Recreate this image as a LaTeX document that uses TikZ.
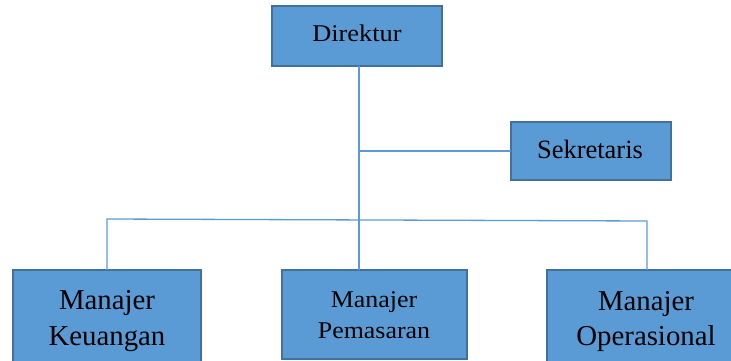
\documentclass[tikz,border=0pt]{standalone}
\usepackage{fontspec}
\setmainfont{Liberation Serif}
\usepackage{graphicx}
\definecolor{boxfill}{HTML}{5B9BD5}
\definecolor{boxdraw}{HTML}{41719C}
\definecolor{linkc}{HTML}{5B9BD5}
\begin{document}
\begin{tikzpicture}[x=1pt,y=-1pt,
  box/.style={draw=boxdraw, fill=boxfill, line width=2pt, inner sep=0pt, outer sep=0pt, anchor=north west},
  link/.style={draw=linkc, line width=1.3pt},
  lbl/.style={anchor=base, inner sep=0pt, align=center, text=black}]
\useasboundingbox (0,0) rectangle (731,361);
\clip (0,0) rectangle (731,361);
\node[box, minimum width=170pt, minimum height=60pt] (dir) at (272,6) {};
\node[box, minimum width=160pt, minimum height=58pt] (sek) at (511,122) {};
\node[box, minimum width=188pt, minimum height=100pt] (keu) at (13,270) {};
\node[box, minimum width=185pt, minimum height=89pt] (pem) at (282,270) {};
\node[box, minimum width=200pt, minimum height=100pt] (ope) at (547,270) {};
\coordinate (jS) at ([xshift=2pt]dir.south |- sek.west);
\coordinate (bl) at (107,219);
\coordinate (br) at (647,221);
\draw[link] ([xshift=2pt]dir.south) -- ([xshift=2pt]dir.south |- pem.north);
\draw[link] (sek.west) -- (jS);
\draw[link] (keu.north) -- (bl) -- (br) -- (ope.north);
\node[lbl, font=\fontsize{24}{24}\selectfont] (tdir) at (357,42) {\scalebox{1.1}[1]{Direktur}};
\node[lbl, font=\fontsize{26.5}{26.5}\selectfont] (tsek) at (590,158) {Sekretaris};
\node[lbl, font=\fontsize{28.8}{36}\selectfont] (tkeu) at (107,345) {Manajer\\Keuangan};
\node[lbl, font=\fontsize{24}{31}\selectfont] (tpem) at (374,338) {\scalebox{1.08}[1]{Manajer}\\\scalebox{1.08}[1]{Pemasaran}};
\node[lbl, font=\fontsize{28.8}{35}\selectfont] (tope) at (646,345) {Manajer\\Operasional};
\end{tikzpicture}
\end{document}
